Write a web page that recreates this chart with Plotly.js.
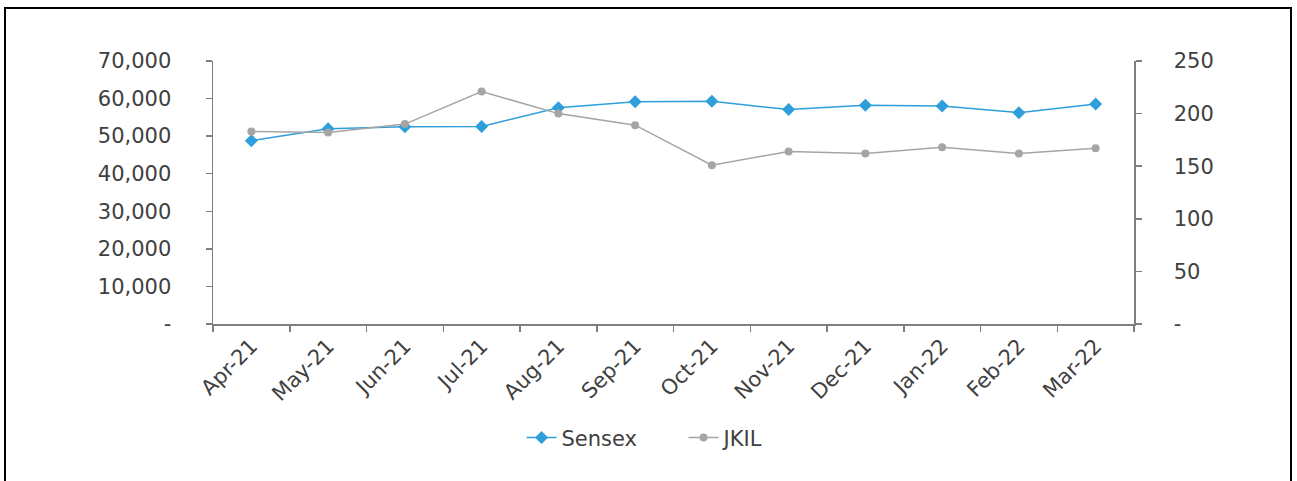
<!DOCTYPE html>
<html>
<head>
<meta charset="utf-8">
<script src="https://cdn.plot.ly/plotly-3.0.1.min.js"></script>
<style>
  html, body { margin: 0; padding: 0; background: #fff; }
  #wrap { position: relative; width: 1297px; height: 481px; overflow: hidden; }
  #frame { position: absolute; left: 4px; top: 7px; width: 1288px; height: 490px; border: 2px solid #000; box-sizing: border-box; pointer-events: none; }
  #chart { position: absolute; left: 0; top: 0; width: 1297px; height: 481px; }
</style>
</head>
<body>
<div id="wrap">
  <div id="chart"></div>
  <div id="frame"></div>
</div>
<script>
const months = ["Apr-21","May-21","Jun-21","Jul-21","Aug-21","Sep-21","Oct-21","Nov-21","Dec-21","Jan-22","Feb-22","Mar-22"];
const sensex = [48782, 51937, 52483, 52587, 57552, 59126, 59307, 57065, 58254, 58014, 56247, 58569];
const jkil = [183, 182, 190, 221, 200, 189, 151, 164, 162, 168, 162, 167];
const leftTickVals = [0, 10000, 20000, 30000, 40000, 50000, 60000, 70000];
const leftTickText = ["-", "10,000", "20,000", "30,000", "40,000", "50,000", "60,000", "70,000"];
const rightTickVals = [0, 50, 100, 150, 200, 250];
const rightTickText = ["-", "50", "100", "150", "200", "250"];

const font = {family: "DejaVu Sans, Noto Sans, sans-serif", size: 21, color: "#404040"};
const axisColor = "#7f7f7f";

const traces = [
  {x: months, y: sensex, name: "Sensex", type: "scatter", mode: "lines+markers",
   line: {color: "#2E9FDA", width: 1.5}, marker: {symbol: "diamond", size: 10, color: "#2E9FDA"}, yaxis: "y"},
  {x: months, y: jkil, name: "JKIL", type: "scatter", mode: "lines+markers",
   line: {color: "#A5A5A5", width: 1.5}, marker: {symbol: "circle", size: 8, color: "#A5A5A5"}, yaxis: "y2"}
];

const layout = {
  width: 1297, height: 481,
  margin: {l: 213, r: 163, t: 61, b: 157},
  paper_bgcolor: "#fff", plot_bgcolor: "#fff",
  font: font,
  showlegend: true,
  legend: {orientation: "h", x: 0.335, xanchor: "left", y: -0.433, yanchor: "middle",
           font: {family: font.family, size: 21, color: "#404040"},
           entrywidth: 117, entrywidthmode: "pixels", tracegroupgap: 0},
  xaxis: {type: "category", range: [-0.5, 11.5], showgrid: false, zeroline: false,
          showline: true, linecolor: axisColor, linewidth: 1.5,
          ticks: "outside", tickson: "boundaries", ticklen: 6, tickcolor: axisColor, tickwidth: 1.5,
          tickangle: -45, tickfont: font, fixedrange: true},
  yaxis: {range: [0, 70000], tickvals: leftTickVals, ticktext: leftTickText, showgrid: false, zeroline: false,
          showline: true, linecolor: axisColor, linewidth: 1.5,
          ticks: "outside", ticklen: 6, tickcolor: axisColor, tickwidth: 1.5,
          ticklabelstandoff: 30, tickfont: font},
  yaxis2: {range: [0, 250], overlaying: "y", side: "right", tickvals: rightTickVals, ticktext: rightTickText,
           showgrid: false, zeroline: false, showline: true, linecolor: axisColor, linewidth: 1.5,
           ticks: "outside", ticklen: 6, tickcolor: axisColor, tickwidth: 1.5,
           ticklabelstandoff: 28, tickfont: font}
};

Plotly.newPlot("chart", traces, layout, {displayModeBar: false, staticPlot: true});
</script>
</body>
</html>
